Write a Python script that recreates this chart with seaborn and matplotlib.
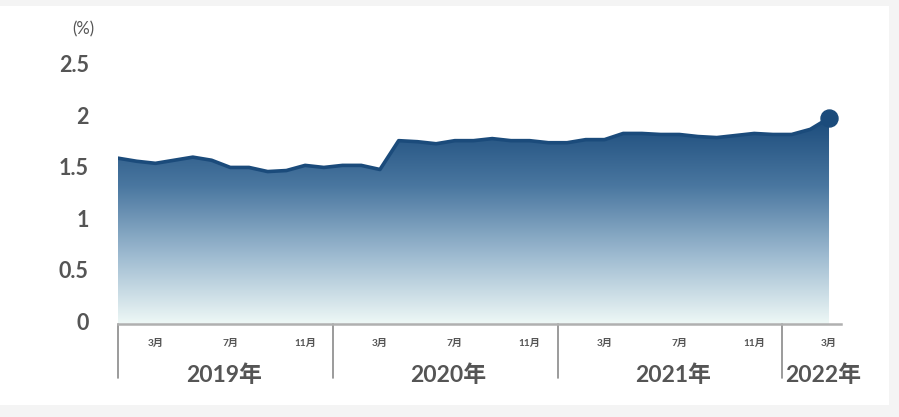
import numpy as np
import pandas as pd
import matplotlib
matplotlib.use("Agg")
import matplotlib.pyplot as plt
import seaborn as sns
from matplotlib.colors import LinearSegmentedColormap
from matplotlib.patches import Rectangle
import matplotlib.transforms as mtransforms

# ---- data ----
years = [2019] * 12 + [2020] * 12 + [2021] * 12 + [2022] * 3
months = list(range(1, 13)) * 3 + [1, 2, 3]
values = [1.61, 1.58, 1.56, 1.59, 1.62, 1.59, 1.52, 1.52, 1.48, 1.49, 1.54, 1.52,
          1.54, 1.54, 1.50, 1.78, 1.77, 1.75, 1.78, 1.78, 1.80, 1.78, 1.78, 1.76,
          1.76, 1.79, 1.79, 1.85, 1.85, 1.84, 1.84, 1.82, 1.81, 1.83, 1.85, 1.84,
          1.84, 1.89, 2.00]
yticks = [0, 0.5, 1, 1.5, 2, 2.5]
ytick_labels = ["0", "0.5", "1", "1.5", "2", "2.5"]
month_ticks = [3, 7, 11]
unit_label = "(%)"

df = pd.DataFrame({"year": years, "month": months, "value": values})
df["idx"] = np.arange(len(df))

LINE = "#1b4b7b"
TXT = "#555555"
FONT = ["Lato", "Noto Sans CJK JP", "DejaVu Sans"]

sns.set_style("white")
plt.rcParams["font.family"] = FONT

fig = plt.figure(figsize=(8.99, 4.17), dpi=100)
fig.patch.set_facecolor("#f4f4f4")
fig.patches.append(Rectangle((0, (417 - 405) / 417), 889 / 899, (405 - 6) / 417,
                             transform=fig.transFigure, facecolor="white",
                             edgecolor="none", zorder=-10))

ax = fig.add_axes([118 / 899, (417 - 324) / 417, (841 - 118) / 899, (324 - 66.5) / 417])
ax.set_facecolor("none")
ax.set_zorder(5)

x = df["idx"].to_numpy()
y = df["value"].to_numpy()

# gradient fill
cmap = LinearSegmentedColormap.from_list("g", ["#eef8f6", "#9dbad0", "#4a77a0", "#1b4b7b"])
poly = ax.fill_between(x, 0, y, facecolor="none", edgecolor="none")
grad = np.linspace(0, 1, 256).reshape(-1, 1)
im = ax.imshow(grad, cmap=cmap, aspect="auto", origin="lower",
               extent=[x[0], x[-1], 0, y.max()], zorder=1)
path = poly.get_paths()[0]
im.set_clip_path(path, transform=ax.transData)

sns.lineplot(data=df, x="idx", y="value", ax=ax, color=LINE, linewidth=2.6, zorder=3)
ax.scatter([x[-1]], [y[-1]], s=150, color=LINE, zorder=4, clip_on=False)

ax.set_xlim(0, len(df) - 1 + 0.64)
ax.set_ylim(0, 2.5)

# axes styling
for s in ["top", "right", "left"]:
    ax.spines[s].set_visible(False)
ax.spines["bottom"].set_color("#b0b0b0")
ax.spines["bottom"].set_linewidth(1.8)
ax.set_yticks(yticks)
ax.set_yticklabels(ytick_labels, fontsize=15.5, fontweight="bold", color=TXT)
ax.tick_params(axis="y", length=0, pad=21)
shift = mtransforms.ScaledTranslation(0, 2.5 / 100, fig.dpi_scale_trans)
for lab in ax.get_yticklabels():
    lab.set_transform(lab.get_transform() + shift)
ax.set_xticks([])
ax.set_xlabel("")
ax.set_ylabel("")
fig.text(83 / 899, (417 - 29) / 417, unit_label, ha="center", va="center",
         fontsize=12, color=TXT)

trans = mtransforms.blended_transform_factory(ax.transData, ax.transAxes)

# month labels
for i, (yr, m) in enumerate(zip(years, months)):
    if m in month_ticks:
        ax.text(i, -0.074, f"{m}月", transform=trans, ha="center", va="center",
                fontsize=7.3, fontweight="bold", color=TXT)

# year separators and labels
uniq_years = list(dict.fromkeys(years))
bounds = [0]
for k in range(1, len(years)):
    if years[k] != years[k - 1]:
        bounds.append(k - 0.5)
for b in bounds:
    ax.plot([b, b], [0, -0.21], transform=trans, color="#8a8a8a", lw=1.2,
            clip_on=False)
for j, yr in enumerate(uniq_years):
    sub = df[df["year"] == yr]["idx"]
    if len(sub) == 12:
        ax.text(sub.mean() + 0.15, -0.198, f"{yr}年", transform=trans, ha="center",
                va="center", fontsize=16.5, fontweight="bold", color=TXT)
    else:
        ax.text(bounds[j] + 0.15, -0.198, f"{yr}年", transform=trans, ha="left",
                va="center", fontsize=16.5, fontweight="bold", color=TXT)

fig.savefig("out.png", dpi=100, facecolor=fig.get_facecolor())
